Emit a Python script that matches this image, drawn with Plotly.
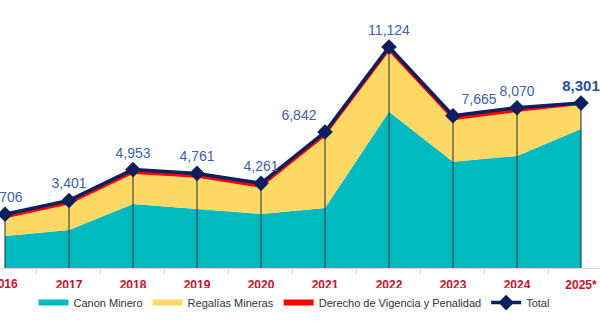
import plotly.graph_objects as go

# Transferencias mineras por año (millones)
years = ["2016", "2017", "2018", "2019", "2020", "2021", "2022", "2023", "2024", "2025*"]
canon_minero = [1610, 1910, 3220, 2970, 2720, 3020, 7870, 5350, 5640, 7000]
derecho_vigencia = [210, 210, 220, 220, 220, 230, 240, 230, 220, 90]
total = [2706, 3401, 4953, 4761, 4261, 6842, 11124, 7665, 8070, 8301]
total_labels = ["2,706", "3,401", "4,953", "4,761", "4,261", "6,842", "11,124", "7,665", "8,070", "8,301"]
regalias_mineras = [t - c - d for t, c, d in zip(total, canon_minero, derecho_vigencia)]

x = list(range(len(years)))

TEAL = "#00BAC0"
YELLOW = "#FFD966"
RED = "#FF0000"
NAVY = "#0C1F5C"
LABEL_BLUE = "#3F5FA8"
TICK_RED = "#C8102E"
FONT = "Liberation Sans, Arial, sans-serif"

fig = go.Figure()

fig.add_trace(go.Scatter(
    x=x, y=canon_minero, name="Canon Minero", mode="none",
    stackgroup="s", fillcolor=TEAL, hoverinfo="skip",
))
fig.add_trace(go.Scatter(
    x=x, y=regalias_mineras, name="Regalías Mineras", mode="none",
    stackgroup="s", fillcolor=YELLOW, hoverinfo="skip",
))
fig.add_trace(go.Scatter(
    x=x, y=derecho_vigencia, name="Derecho de Vigencia y Penalidad", mode="none",
    stackgroup="s", fillcolor=RED, hoverinfo="skip",
))

# thin drop lines from each total point to the baseline
drop_x, drop_y = [], []
for xi, ti in zip(x, total):
    drop_x += [xi, xi, None]
    drop_y += [0, ti, None]
fig.add_trace(go.Scatter(
    x=drop_x, y=drop_y, mode="lines", line=dict(color="#1A2E3A", width=1),
    showlegend=False, hoverinfo="skip",
))

label_fonts = [14] * 9 + [15]
label_colors = [LABEL_BLUE] * 9 + ["#2E4C94"]
texts = total_labels[:-1] + ["<b>" + total_labels[-1] + "</b>"]
positions = ["top center"] * len(x)
positions[5] = "top left"
positions[7] = "top right"
fig.add_trace(go.Scatter(
    x=x, y=total, name="Total", mode="lines+markers+text",
    line=dict(color=NAVY, width=3.5),
    marker=dict(symbol="diamond", size=12, color=NAVY),
    text=texts, textposition=positions,
    textfont=dict(family=FONT, size=label_fonts, color=label_colors),
    cliponaxis=False,
))

# first category label sits at the very left edge
fig.add_annotation(
    x=0, y=0, xref="x", yref="y", text="<b>2016</b>", showarrow=False,
    yanchor="top", yshift=-7, font=dict(family=FONT, size=12, color=TICK_RED),
)

fig.update_layout(
    width=600, height=331,
    margin=dict(l=0, r=0, t=0, b=63),
    paper_bgcolor="white", plot_bgcolor="white",
    showlegend=True,
    legend=dict(
        orientation="h", x=0.49, xanchor="center", y=-0.075, yanchor="top",
        font=dict(family=FONT, size=11, color="#333333"),
        itemwidth=30, traceorder="normal",
    ),
    xaxis=dict(
        range=[-0.078, 9.297],
        tickmode="array", tickvals=x, ticktext=years,
        tickfont=dict(family=FONT, size=12, color=TICK_RED, weight="bold"),
        showgrid=False, zeroline=False,
        showline=True, linecolor="#D9D9D9", linewidth=1,
        ticks="", ticklabelstandoff=6,
        minor=dict(tick0=0.5, dtick=1, ticks="outside", ticklen=5, tickcolor="#D0D0D0", showgrid=False),
    ),
    yaxis=dict(range=[0, 13490], visible=False, showgrid=False, zeroline=False),
)

fig.write_html("out.html")
